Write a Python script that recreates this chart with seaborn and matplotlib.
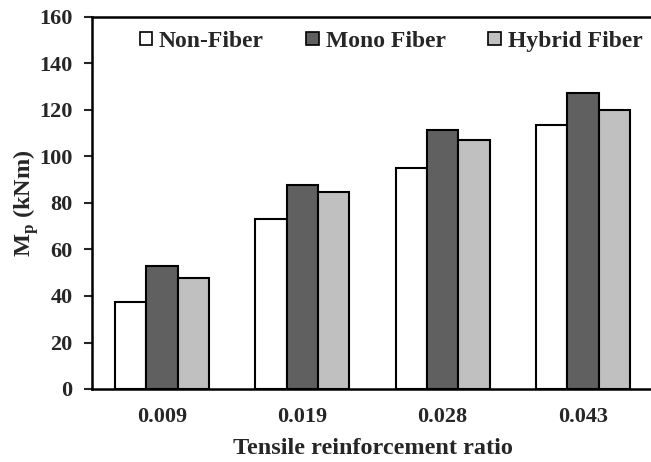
import matplotlib
matplotlib.use("Agg")
import matplotlib.pyplot as plt
import seaborn as sns
import pandas as pd
from matplotlib.patches import Patch

# Tensile reinforcement ratios and plastic moment (kNm) per fiber type
ratios = ["0.009", "0.019", "0.028", "0.043"]
non_fiber = [37.4, 73.0, 95.0, 113.5]
mono_fiber = [52.7, 87.8, 111.5, 127.2]
hybrid_fiber = [47.9, 84.8, 107.0, 120.1]
series = ["Non-Fiber", "Mono Fiber", "Hybrid Fiber"]
colors = ["#ffffff", "#606060", "#c0c0c0"]

df = pd.DataFrame({
    "ratio": ratios * 3,
    "Mp": non_fiber + mono_fiber + hybrid_fiber,
    "type": [series[0]] * 4 + [series[1]] * 4 + [series[2]] * 4,
})

sns.set_style("white")
plt.rcParams["font.family"] = ["Liberation Serif", "DejaVu Serif"]
plt.rcParams["font.weight"] = "bold"
plt.rcParams["mathtext.fontset"] = "custom"
plt.rcParams["mathtext.bf"] = "Liberation Serif:bold"
plt.rcParams["mathtext.rm"] = "Liberation Serif:bold"

fig = plt.figure(figsize=(6.51, 4.62), dpi=100)
ax = fig.add_axes([92 / 651, 1 - 389 / 462, (653 - 92) / 651, (389 - 17) / 462])

sns.barplot(data=df, x="ratio", y="Mp", hue="type", order=ratios,
            hue_order=series, palette=colors, width=0.67,
            edgecolor="black", linewidth=1.5, saturation=1, ax=ax,
            legend=False)

ax.set_xlim(-0.5, 3.5)
ax.set_ylim(0, 160)
ax.set_yticks(range(0, 161, 20))
ax.tick_params(axis="y", which="major", direction="out", length=6, width=1.5,
               labelsize=16, pad=8, left=True)
ax.tick_params(axis="x", length=0, labelsize=16, pad=13)
for lbl in ax.get_xticklabels() + ax.get_yticklabels():
    lbl.set_fontweight("bold")

for side in ["left", "bottom", "top"]:
    ax.spines[side].set_visible(True)
    ax.spines[side].set_linewidth(1.8)
    ax.spines[side].set_color("black")
ax.spines["right"].set_visible(False)

ax.set_xlabel("Tensile reinforcement ratio", fontsize=17.5, fontweight="bold",
              labelpad=8)
ax.set_ylabel(r"M$_{\mathbf{p}}$ (kNm)", fontsize=17.5, fontweight="bold",
              labelpad=-1)

handles = [Patch(facecolor=c, edgecolor="black", linewidth=1.2) for c in colors]
ax.legend(handles, series, ncol=3, loc="upper center",
          bbox_to_anchor=(0.533, 1.02), frameon=False,
          prop={"family": "Liberation Serif", "weight": "bold", "size": 17},
          handlelength=0.52, handleheight=0.52, handletextpad=0.3,
          columnspacing=1.8)

fig.savefig("out.png", dpi=100)
